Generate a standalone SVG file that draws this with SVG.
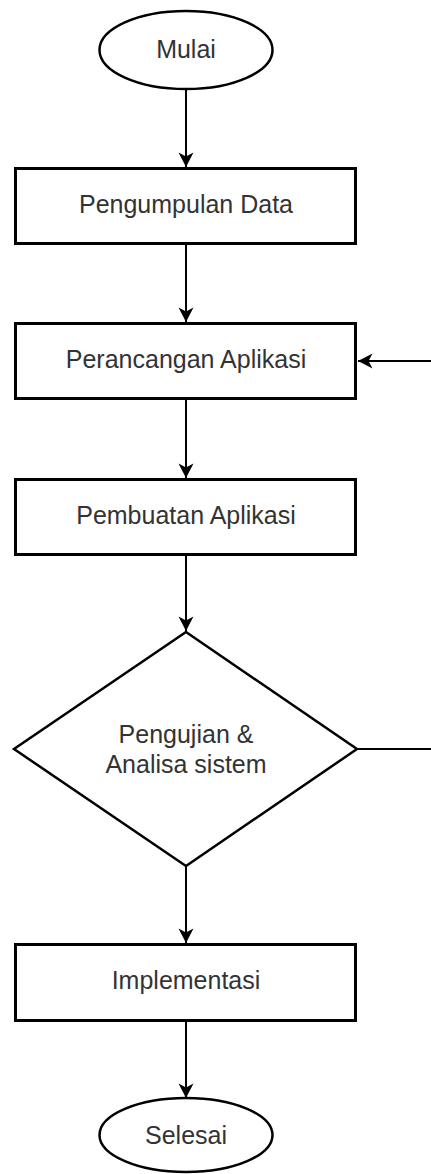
<svg xmlns="http://www.w3.org/2000/svg" width="431" height="1174" viewBox="0 0 431 1174">
  <style>
    .shape { fill: #ffffff; stroke: #000000; }
    .box { stroke-width: 3; }
    .term { stroke-width: 2.5; }
    .dec { stroke-width: 2.5; }
    .lbl { font-family: "Liberation Sans", Arial, sans-serif; font-size: 25px; fill: #333333; text-anchor: middle; }
    .conn { fill: none; stroke: #000000; stroke-width: 2; }
  </style>
  <defs>
    <marker id="arrow" markerUnits="userSpaceOnUse" markerWidth="16" markerHeight="16" viewBox="0 0 15 16" refX="14.5" refY="8" orient="auto">
      <path d="M0,0.5 L14.5,8 L0,15.5 L4,8 Z" fill="#000000" stroke="none"/>
    </marker>
  </defs>
  <rect width="431" height="1174" fill="#ffffff"/>

  <g id="connectors">
    <line class="conn" x1="186" y1="89" x2="186" y2="167" marker-end="url(#arrow)"/>
    <line class="conn" x1="186" y1="245" x2="186" y2="322" marker-end="url(#arrow)"/>
    <line class="conn" x1="186" y1="400" x2="186" y2="478" marker-end="url(#arrow)"/>
    <line class="conn" x1="186" y1="556" x2="186" y2="631" marker-end="url(#arrow)"/>
    <line class="conn" x1="186" y1="866" x2="186" y2="943" marker-end="url(#arrow)"/>
    <line class="conn" x1="186" y1="1022" x2="186" y2="1098" marker-end="url(#arrow)"/>
    <polyline class="conn" points="357,749 445,749 445,361 358,361" marker-end="url(#arrow)"/>
  </g>

  <g id="mulai">
    <ellipse class="shape term" cx="186" cy="50" rx="86.5" ry="39"/>
    <text class="lbl" x="186" y="58">Mulai</text>
  </g>

  <g id="pengumpulan-data">
    <rect class="shape box" x="15.5" y="168.5" width="340" height="75"/>
    <text class="lbl" x="186" y="213">Pengumpulan Data</text>
  </g>

  <g id="perancangan-aplikasi">
    <rect class="shape box" x="15.5" y="323.5" width="340" height="75"/>
    <text class="lbl" x="186" y="368">Perancangan Aplikasi</text>
  </g>

  <g id="pembuatan-aplikasi">
    <rect class="shape box" x="15.5" y="479.5" width="340" height="75"/>
    <text class="lbl" x="186" y="524">Pembuatan Aplikasi</text>
  </g>

  <g id="pengujian">
    <polygon class="shape dec" points="186,632 357,749 186,866 14,749"/>
    <text class="lbl" x="186" y="743">Pengujian &amp;</text>
    <text class="lbl" x="186" y="773">Analisa sistem</text>
  </g>

  <g id="implementasi">
    <rect class="shape box" x="15.5" y="944.5" width="340" height="76"/>
    <text class="lbl" x="186" y="989">Implementasi</text>
  </g>

  <g id="selesai">
    <ellipse class="shape term" cx="186" cy="1135" rx="86.5" ry="37"/>
    <text class="lbl" x="186" y="1144">Selesai</text>
  </g>
</svg>
